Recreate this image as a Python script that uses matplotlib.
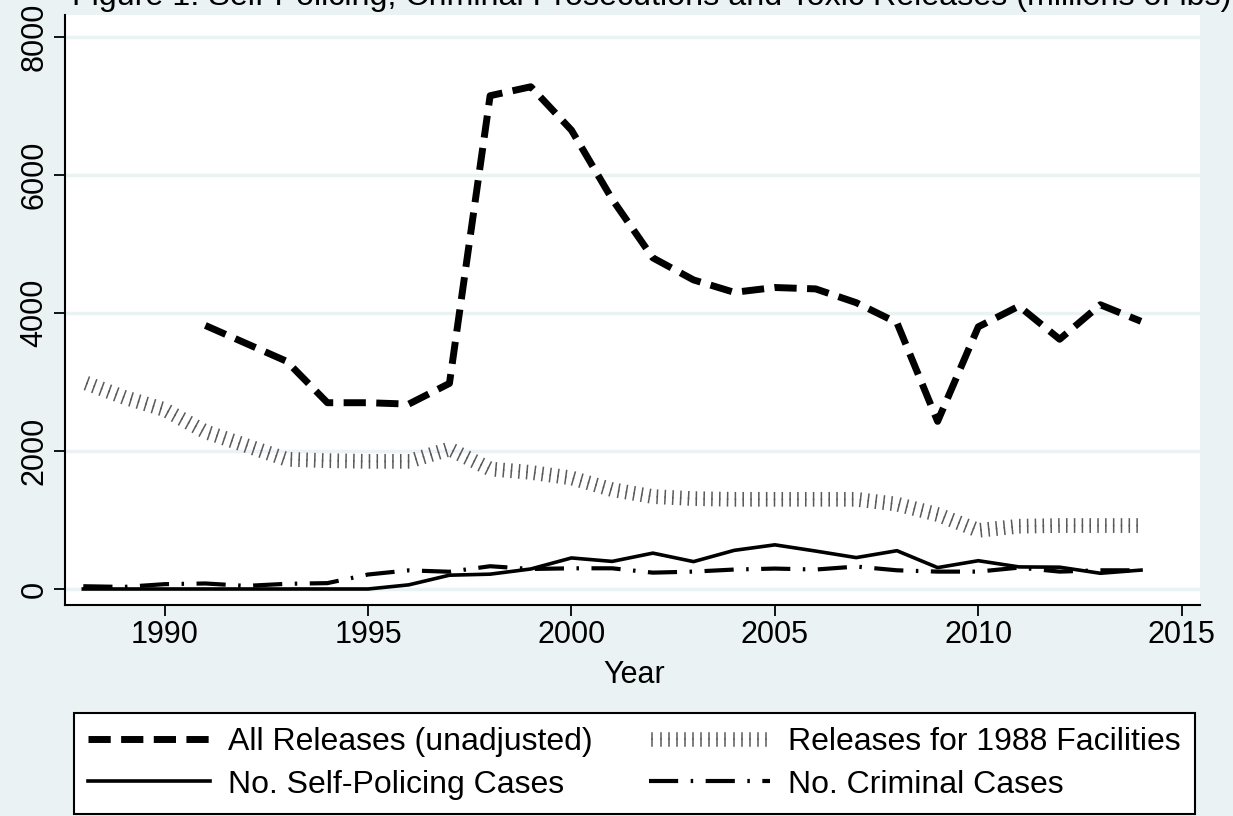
import numpy as np
import matplotlib.pyplot as plt
import matplotlib.patheffects as pe

# figure 1 - toxic releases vs enforcement
years = list(range(1988, 2015))

all_years = list(range(1991, 2015))
all_releases = [3820, 3560, 3300, 2700, 2700, 2680, 2980, 7150, 7280, 6650,
                5650, 4800, 4480, 4300, 4370, 4350, 4150, 3860, 2430, 3800,
                4100, 3620, 4120, 3880]

releases_1988 = [3000, 2780, 2600, 2280, 2080, 1880, 1860, 1850, 1850, 2030,
                 1740, 1690, 1610, 1440, 1340, 1310, 1300, 1300, 1300, 1300,
                 1230, 1080, 850, 910, 920, 920, 920]

self_policing = [0, 0, 0, 0, 0, 0, 0, 0, 60, 200, 215, 290, 450, 400, 520,
                 397, 560, 640, 550, 455, 555, 310, 410, 320, 316, 228, 274]

criminal = [40, 30, 70, 80, 45, 75, 85, 210, 270, 250, 330, 290, 300, 300,
            237, 252, 282, 296, 282, 325, 271, 252, 252, 310, 252, 271, 271]

yticks = [0, 2000, 4000, 6000, 8000]
xticks = [1990, 1995, 2000, 2005, 2010, 2015]

plt.rcParams['font.family'] = ['Liberation Sans', 'DejaVu Sans']

bg = '#eaf2f3'
W, H = 1233, 816
fig = plt.figure(figsize=(W / 100, H / 100), dpi=100, facecolor=bg)
ax = fig.add_axes([65 / W, 1 - 605 / H, 1135 / W, 590 / H])
ax.set_facecolor('white')

hatch = [pe.withTickedStroke(angle=90, spacing=5.6, length=0.85, linewidth=1.1, foreground='#5a5a5a'),
         pe.withTickedStroke(angle=-90, spacing=5.6, length=0.85, linewidth=1.1, foreground='#5a5a5a')]

l1, = ax.plot(all_years, all_releases, color='black', lw=5, solid_capstyle='butt',
              linestyle=(0, (3.2, 1.5)), label='All Releases (unadjusted)')
l2, = ax.plot(years, releases_1988, color='none', lw=1, path_effects=hatch,
              label='Releases for 1988 Facilities')
l3, = ax.plot(years, self_policing, color='black', lw=2.6, label='No. Self-Policing Cases')
l4, = ax.plot(years, criminal, color='black', lw=3, linestyle=(0, (7, 3, 0.6, 3)),
              label='No. Criminal Cases')

ax.set_xlim(1987.55, 2015.45)
ax.set_ylim(-232, 8320)
ax.set_yticks(yticks)
ax.set_xticks(xticks)
ax.set_yticklabels([str(v) for v in yticks], rotation=90, va='center', fontsize=22)
ax.set_xticklabels([str(v) for v in xticks], fontsize=22)
ax.tick_params(length=8, width=1.3, color='black', pad=3)
ax.grid(axis='y', color=bg, lw=2.5)
ax.set_axisbelow(True)
for s in ['top', 'right']:
    ax.spines[s].set_visible(False)
for s in ['left', 'bottom']:
    ax.spines[s].set_linewidth(1.5)

fig.text(634 / W, 1 - 683 / H, 'Year', ha='center', va='baseline', fontsize=22)

fig.text(652 / W, 1 - 5 / H, 'Figure 1: Self-Policing, Criminal Prosecutions and Toxic Releases (millions of lbs)',
         ha='center', va='baseline', fontsize=23.2)

# legend row-wise like stata: fill columns in order all, self, 1988, criminal
leg = fig.legend([l1, l3, l2, l4], [l1.get_label(), l3.get_label(), l2.get_label(), l4.get_label()],
                 loc='lower left', bbox_to_anchor=(74 / W, 2 / H),
                 borderaxespad=0, ncol=2, fontsize=23, frameon=True, fancybox=False,
                 edgecolor='black', facecolor='white', framealpha=1,
                 handlelength=3.8, handletextpad=0.57, columnspacing=1.75,
                 borderpad=0.45, labelspacing=0.38)
leg.get_frame().set_linewidth(1.5)

fig.savefig('out.png', dpi=100, facecolor=bg)
